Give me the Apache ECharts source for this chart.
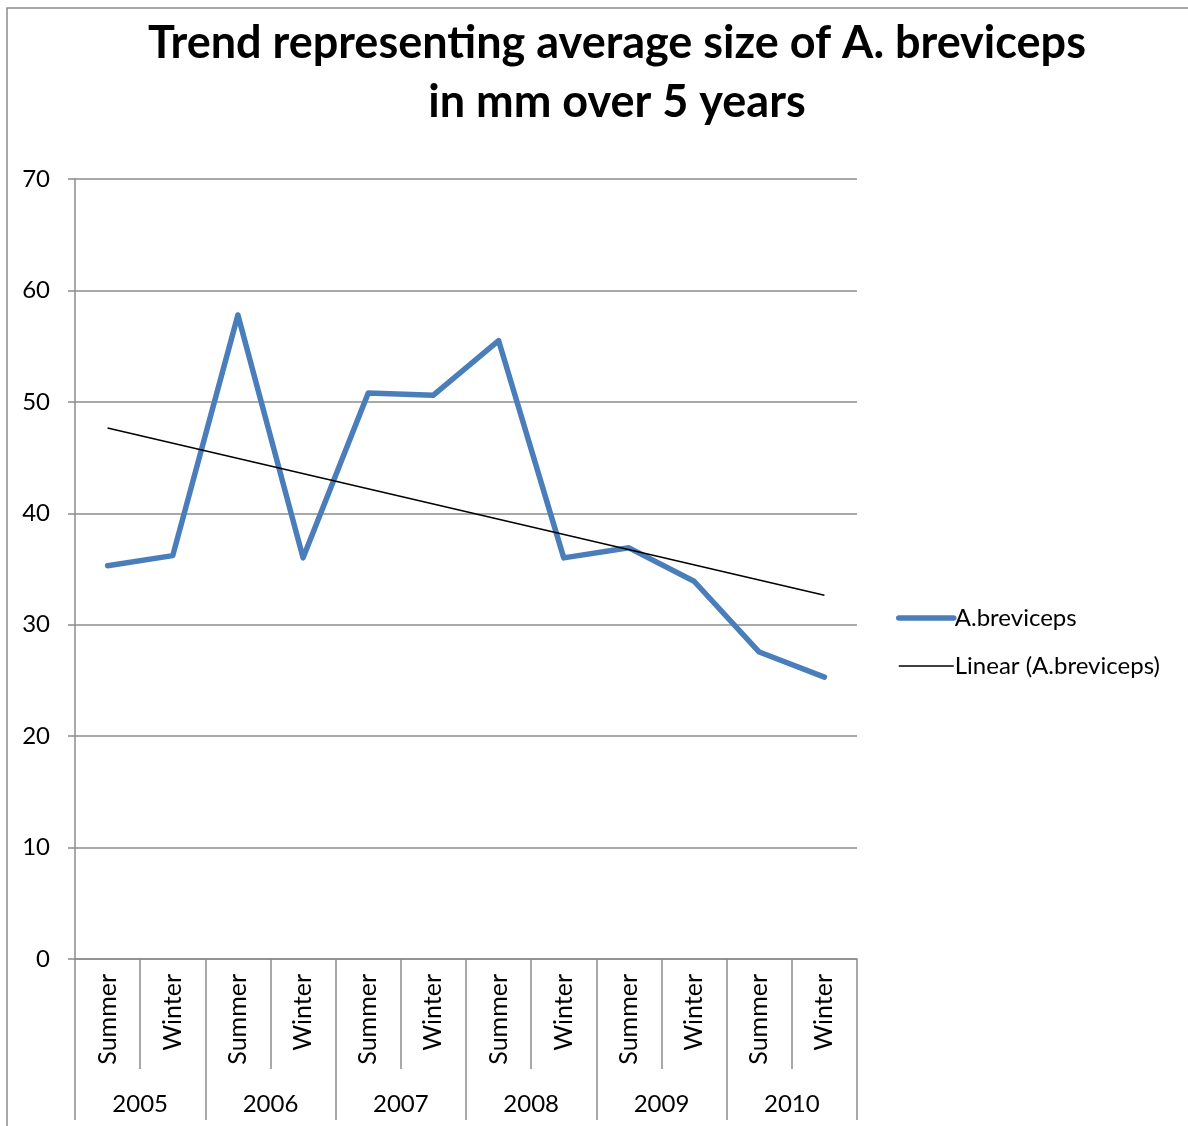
<!DOCTYPE html>
<html>
<head>
<meta charset="utf-8">
<script src="https://cdn.jsdelivr.net/npm/echarts@6/dist/echarts.min.js"></script>
<style>
  html, body { margin: 0; padding: 0; background: #fff; }
  #chart { width: 1188px; height: 1126px; }
</style>
</head>
<body>
<div id="chart"></div>
<script>
// Season labels (inner axis level) and year groups (outer axis level)
const seasons = ['Summer', 'Winter', 'Summer', 'Winter', 'Summer', 'Winter',
                 'Summer', 'Winter', 'Summer', 'Winter', 'Summer', 'Winter'];
const years = ['2005', '2006', '2007', '2008', '2009', '2010'];

// Average size (mm) per season
const sizes = [35.3, 36.2, 57.8, 36.0, 50.8, 50.6, 55.5, 36.0, 36.9, 33.9, 27.55, 25.3];

// Linear trend line: value at first and last season
const trendEnds = [47.65, 32.65];

const yTicks = { min: 0, max: 70, interval: 10 };

const trendData = seasons.map((_, i) =>
  i === 0 ? trendEnds[0] : (i === seasons.length - 1 ? trendEnds[1] : null));

const FONT = 'Lato, "Open Sans", sans-serif';
const GRAY = '#8c8c8c';
const BLUE = '#4a7ebb';

const chart = echarts.init(document.getElementById('chart'), null, { renderer: 'canvas' });

chart.setOption({
  backgroundColor: '#fff',
  animation: false,
  textStyle: { fontFamily: FONT, color: '#000' },
  title: {
    text: 'Trend representing average size of A. breviceps\nin mm over 5 years',
    left: 612,
    textAlign: 'center',
    top: 9,
    textStyle: { fontFamily: FONT, fontSize: 45, fontWeight: 'bold', color: '#000', lineHeight: 59 }
  },
  graphic: [{
    type: 'polyline',
    shape: { points: [[7, 1126], [7, 8], [1188, 8]] },
    style: { stroke: GRAY, lineWidth: 1.5, fill: null },
    silent: true
  }],
  legend: {
    orient: 'vertical',
    left: 891,
    top: 601,
    itemWidth: 55,
    itemHeight: 14,
    itemGap: 24,
    itemStyle: { opacity: 0 },
    textStyle: { fontFamily: FONT, fontSize: 24, color: '#000', padding: [0, 0, 0, -4] },
    data: [
      { name: 'A.breviceps', lineStyle: { color: BLUE, width: 5.5, cap: 'round' } },
      { name: 'Linear (A.breviceps)', lineStyle: { color: '#000', width: 1.5 } }
    ]
  },
  grid: { left: 75, right: 331, top: 179, bottom: 167, containLabel: false },
  xAxis: [{
    type: 'category',
    data: seasons,
    boundaryGap: true,
    position: 'bottom',
    axisLine: { show: true, lineStyle: { color: GRAY, width: 1.5 } },
    axisTick: { show: true, length: 110, alignWithLabel: false, lineStyle: { color: GRAY, width: 1.5 } },
    axisLabel: { rotate: 90, margin: 15, fontFamily: FONT, fontSize: 25, color: '#000', interval: 0 },
    splitLine: { show: false }
  }, {
    type: 'category',
    data: years,
    boundaryGap: true,
    position: 'bottom',
    offset: 161,
    axisLine: { show: false },
    axisTick: { show: true, inside: true, length: 161, lineStyle: { color: GRAY, width: 1.5 } },
    axisLabel: { inside: true, margin: 4, fontFamily: FONT, fontSize: 24, color: '#000', interval: 0 },
    splitLine: { show: false }
  }],
  yAxis: {
    type: 'value',
    min: yTicks.min,
    max: yTicks.max,
    interval: yTicks.interval,
    axisLine: { show: true, lineStyle: { color: GRAY, width: 1.5 } },
    axisTick: { show: true, length: 7, lineStyle: { color: GRAY, width: 1.5 } },
    axisLabel: { margin: 25, fontFamily: FONT, fontSize: 24, color: '#000' },
    splitLine: { show: true, lineStyle: { color: GRAY, width: 1.5 } }
  },
  series: [{
    name: 'A.breviceps',
    type: 'line',
    data: sizes,
    xAxisIndex: 0,
    symbol: 'none',
    lineStyle: { color: BLUE, width: 5.5, join: 'round', cap: 'round' },
    itemStyle: { color: BLUE },
    z: 3
  }, {
    name: 'Linear (A.breviceps)',
    type: 'line',
    data: trendData,
    connectNulls: true,
    xAxisIndex: 0,
    symbol: 'none',
    lineStyle: { color: '#000', width: 1.5 },
    itemStyle: { color: '#000' },
    z: 4
  }]
});
</script>
</body>
</html>
